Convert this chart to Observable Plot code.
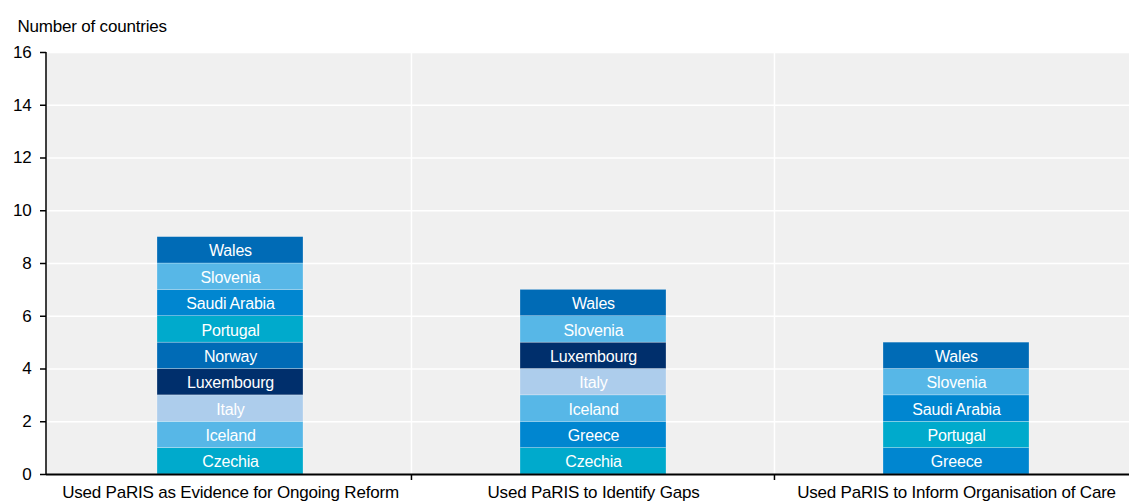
<!DOCTYPE html>
<html><head><meta charset="utf-8">
<script src="https://cdn.jsdelivr.net/npm/d3@7"></script>
<script src="https://cdn.jsdelivr.net/npm/@observablehq/plot@0.6"></script>
<style>
body{margin:0;background:#fff;}
#chart svg{font-family:"Liberation Sans",Arial,sans-serif;overflow:visible;}
#chart svg text{letter-spacing:-0.2px;}
</style>
</head><body><div id="chart"></div>
<script>
const categories = [
  "Used PaRIS as Evidence for Ongoing Reform",
  "Used PaRIS to Identify Gaps",
  "Used PaRIS to Inform Organisation of Care"
];
const countriesReform = ["Czechia","Iceland","Italy","Luxembourg","Norway","Portugal","Saudi Arabia","Slovenia","Wales"];
const countriesGaps = ["Czechia","Greece","Iceland","Italy","Luxembourg","Slovenia","Wales"];
const countriesCare = ["Greece","Portugal","Saudi Arabia","Slovenia","Wales"];
const countPerCountry = 1;
const yTicks = [0,2,4,6,8,10,12,14,16];
const yTitle = "Number of countries";

const colorDomain = ["Czechia","Greece","Iceland","Italy","Luxembourg","Norway","Portugal","Saudi Arabia","Slovenia","Wales"];
const colorRange  = ["#00AACC","#0086D0","#57B7E7","#ADCDEC","#002F6C","#006BB6","#00AACC","#0086D0","#57B7E7","#006BB6"];

const lists = [countriesReform, countriesGaps, countriesCare];
const data = [];
lists.forEach((list, i) => list.forEach(c => data.push({category: categories[i], country: c, value: countPerCountry})));

const padInner = 0.598;

function separators(index, scales, values, dim) {
  const x = scales.x;
  const ns = "http://www.w3.org/2000/svg";
  const g = document.createElementNS(ns, "g");
  const line = (x1,y1,x2,y2,stroke,w) => {
    const l = document.createElementNS(ns, "line");
    l.setAttribute("x1",x1);l.setAttribute("y1",y1);l.setAttribute("x2",x2);l.setAttribute("y2",y2);
    l.setAttribute("stroke",stroke);l.setAttribute("stroke-width",w);
    g.appendChild(l);
  };
  const top = dim.marginTop, bottom = dim.height - dim.marginBottom;
  const step = x(categories[1]) - x(categories[0]);
  for (let i = 1; i < categories.length; i++) {
    const bx = x(categories[i]) - step * padInner / 2;
    line(bx, top, bx, bottom, "#ffffff", 1.5);
    line(bx, bottom, bx, bottom + 6, "#000000", 1.5);
  }
  return g;
}
function axisLines(index, scales, values, dim) {
  const ns = "http://www.w3.org/2000/svg";
  const g = document.createElementNS(ns, "g");
  const l = document.createElementNS(ns, "line");
  const x0 = dim.marginLeft;
  l.setAttribute("x1",x0);l.setAttribute("x2",x0);
  l.setAttribute("y1",dim.marginTop);l.setAttribute("y2",dim.height - dim.marginBottom);
  l.setAttribute("stroke","#000");l.setAttribute("stroke-width",1.5);
  g.appendChild(l);
  return g;
}

const chart = Plot.plot({
  width: 1129,
  height: 501,
  marginLeft: 46,
  marginRight: 0,
  marginTop: 52,
  marginBottom: 27,
  style: {fontSize: "17px", fontFamily: "'Liberation Sans', Arial, sans-serif", color: "#000", background: "#fff"},
  x: {domain: categories, range: [48.5, 1138], paddingInner: padInner, paddingOuter: padInner / 2, label: null},
  y: {domain: [0, 16], label: null},
  color: {domain: colorDomain, range: colorRange},
  marks: [
    Plot.frame({fill: "#f0f0f0", stroke: null}),
    Plot.gridY(yTicks.filter(d => d > 0), {stroke: "#ffffff", strokeOpacity: 1, strokeWidth: 1.5}),
    separators,
    Plot.barY(data, Plot.stackY({x: "category", y: "value", fill: "country", stroke: "#ffffff", strokeWidth: 0.5, strokeOpacity: 0.5})),
    Plot.text(data, Plot.stackY({x: "category", y: "value", text: "country", fill: "#ffffff", fontSize: 16, dy: 1})),
    Plot.ruleY([0], {stroke: "#000", strokeWidth: 2}),
    axisLines,
    Plot.axisY({ticks: yTicks, tickSize: 6, tickPadding: 9, label: null, fontSize: 17, stroke: "#000", strokeWidth: 1.5}),
    Plot.axisX({tickSize: 0, tickPadding: 11, label: null, fontSize: 17}),
    Plot.text([yTitle], {frameAnchor: "top-left", lineAnchor: "middle", textAnchor: "start", dx: -29, dy: -26, fontSize: 17, fill: "#000"})
  ]
});
document.getElementById("chart").appendChild(chart);
</script>
</body></html>
